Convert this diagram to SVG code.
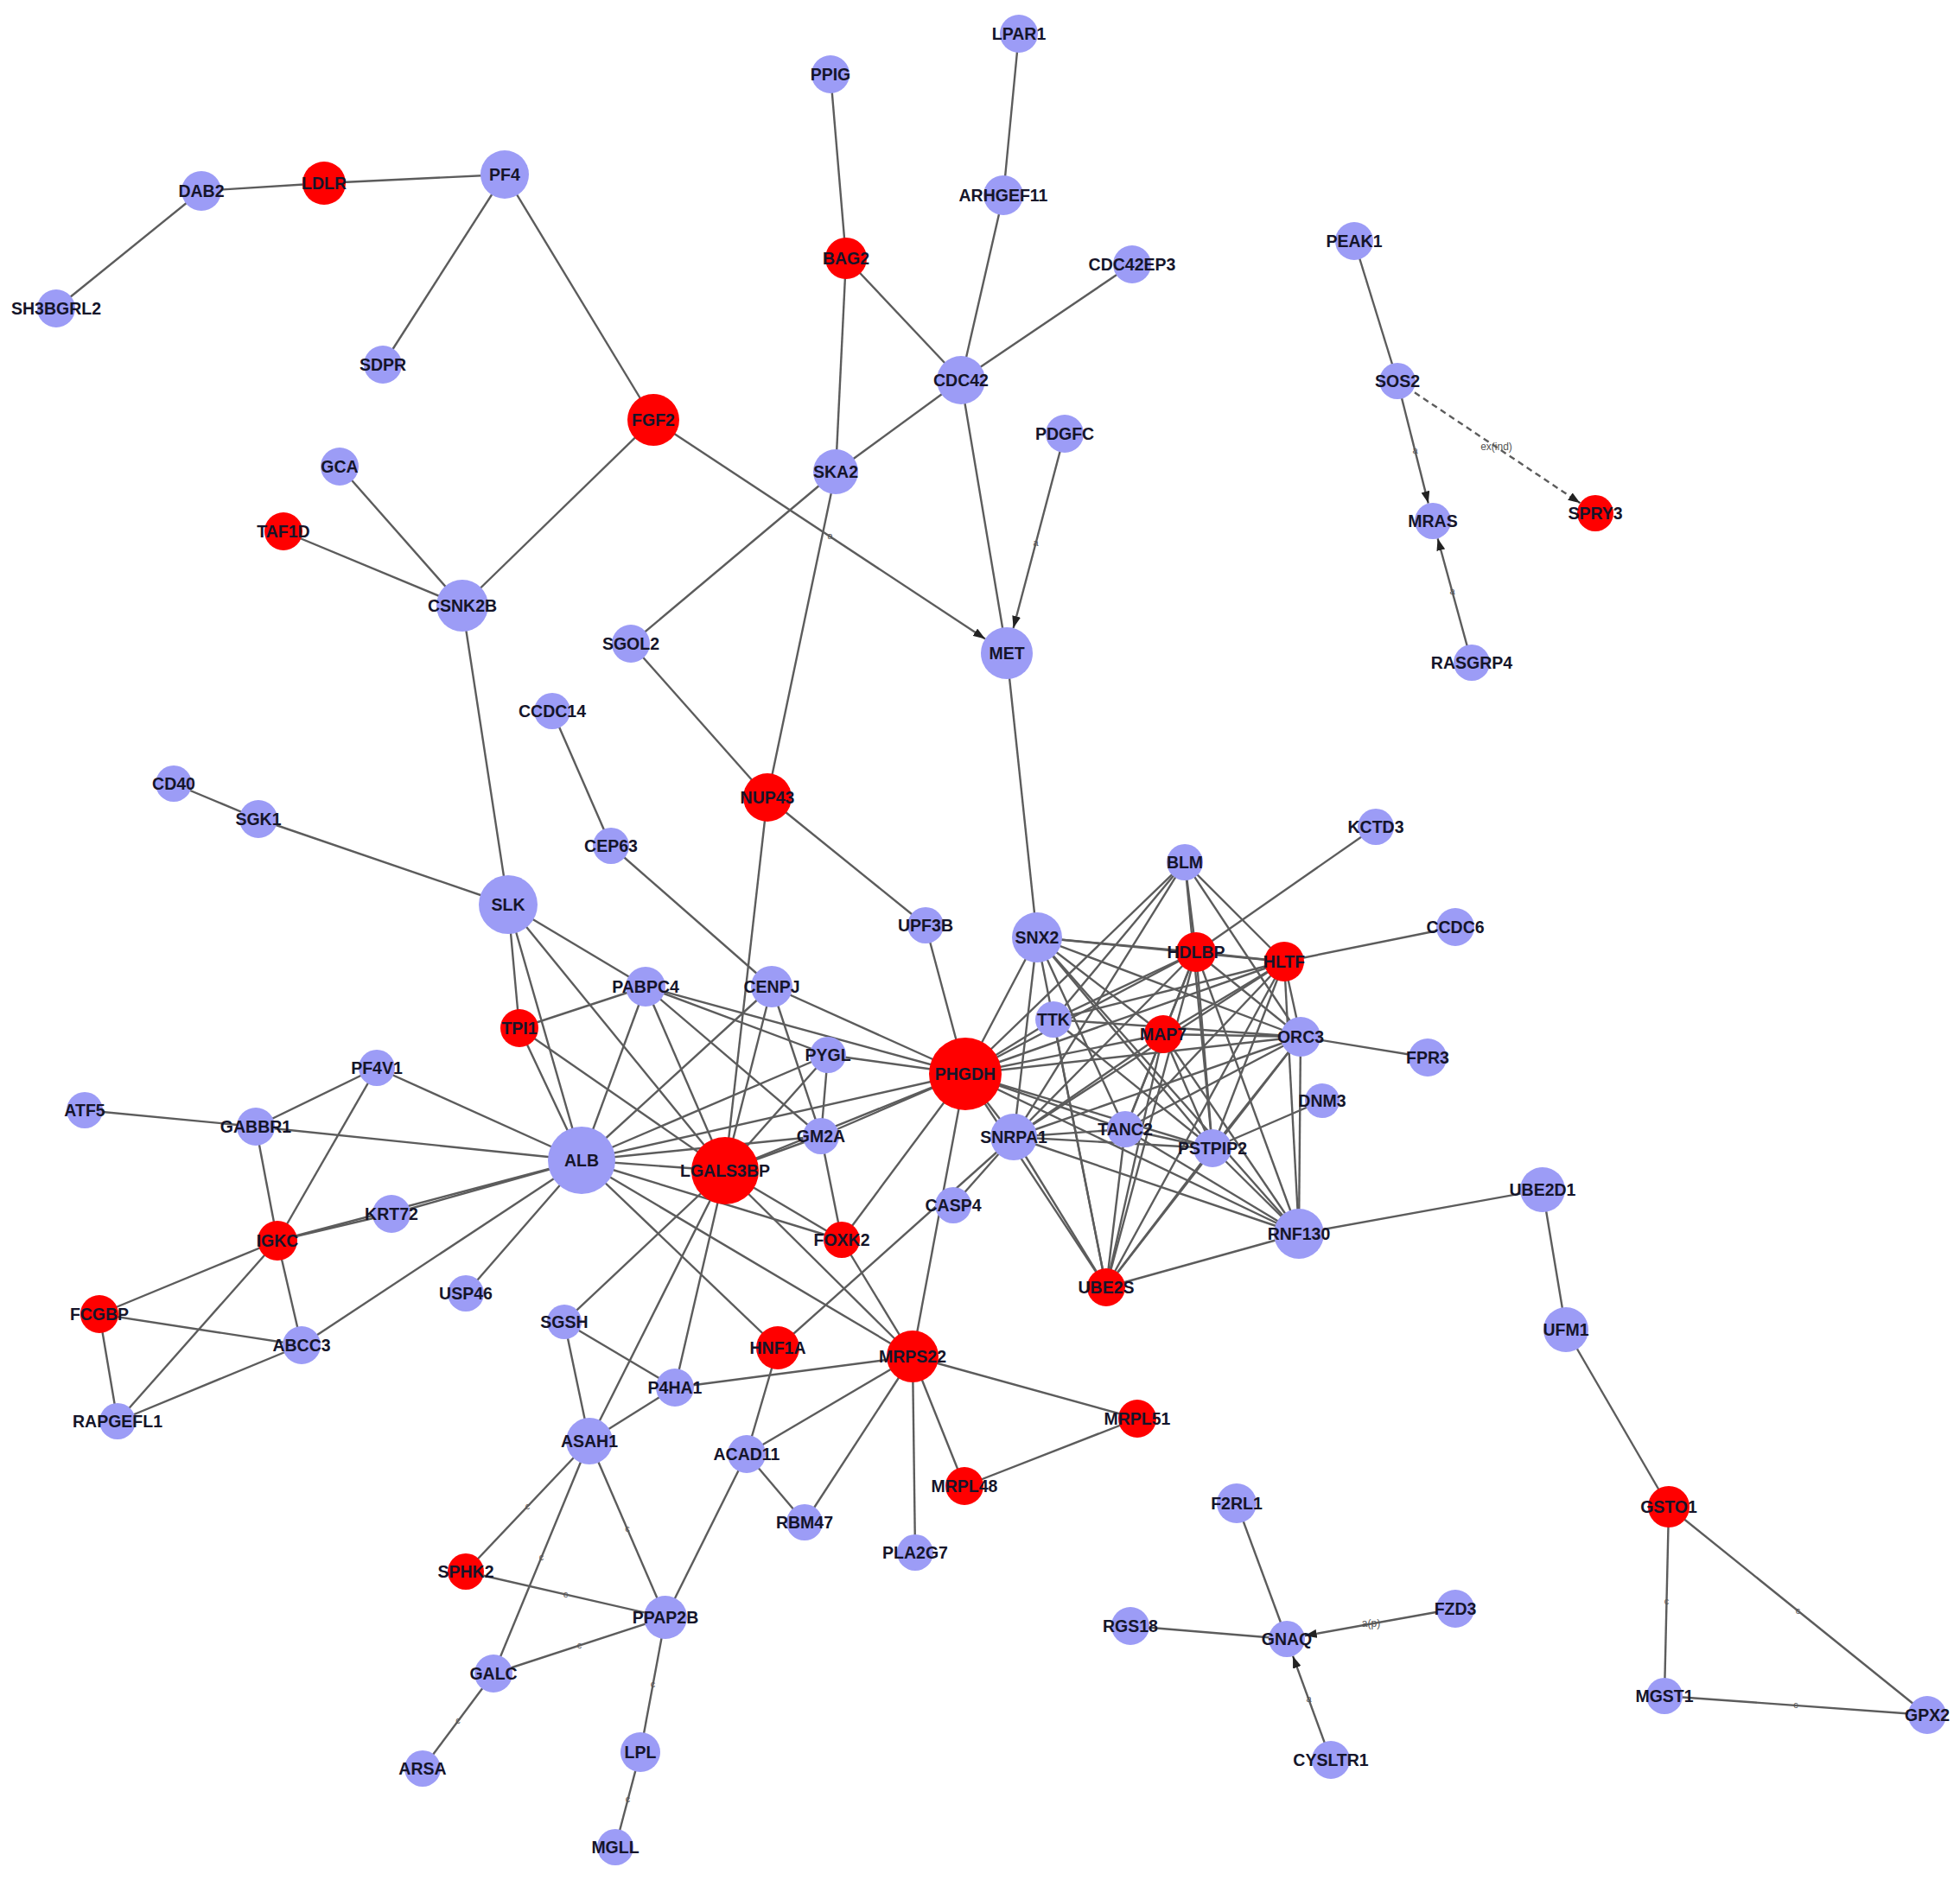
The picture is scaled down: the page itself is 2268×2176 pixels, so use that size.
<svg xmlns="http://www.w3.org/2000/svg" width="2268" height="2176" viewBox="0 0 2268 2176">
<style>
.e line{stroke:#5c5c5c;stroke-width:2.4;fill:none}
.e .d{stroke-dasharray:7,5}
.e .ar{marker-end:url(#arr)}
.el{font-family:"Liberation Sans",Arial,sans-serif;font-size:11px;fill:#555;text-anchor:middle}
.b{fill:#9c9cf6}
.r{fill:#ff0000}
.t{font-family:"Liberation Sans",Arial,sans-serif;font-size:19.5px;font-weight:bold;fill:#15152a;text-anchor:middle}
</style>
<defs>
<marker id="arr" markerUnits="userSpaceOnUse" markerWidth="14" markerHeight="10" refX="14" refY="5" orient="auto">
<path d="M0,0 L14,5 L0,10 z" fill="#222"/>
</marker>
</defs>
<rect width="2268" height="2176" fill="#ffffff"/>
<g id="edges" class="e">
<line x1="1179" y1="39" x2="1161" y2="226"/>
<line x1="1161" y1="226" x2="1112" y2="440"/>
<line x1="961" y1="86" x2="979" y2="299"/>
<line x1="979" y1="299" x2="1112" y2="440"/>
<line x1="979" y1="299" x2="967" y2="546"/>
<line x1="1310" y1="306" x2="1112" y2="440"/>
<line x1="1112" y1="440" x2="967" y2="546"/>
<line x1="1112" y1="440" x2="1165" y2="756"/>
<line x1="233" y1="221" x2="375" y2="212"/>
<line x1="233" y1="221" x2="65" y2="357"/>
<line x1="375" y1="212" x2="584" y2="202"/>
<line x1="584" y1="202" x2="443" y2="422"/>
<line x1="584" y1="202" x2="756" y2="486"/>
<line x1="756" y1="486" x2="535" y2="701"/>
<line x1="967" y1="546" x2="730" y2="745"/>
<line x1="967" y1="546" x2="888" y2="923"/>
<line x1="393" y1="540" x2="535" y2="701"/>
<line x1="328" y1="615" x2="535" y2="701"/>
<line x1="535" y1="701" x2="588" y2="1047"/>
<line x1="730" y1="745" x2="888" y2="923"/>
<line x1="1165" y1="756" x2="1200" y2="1085"/>
<line x1="888" y1="923" x2="1071" y2="1071"/>
<line x1="888" y1="923" x2="839" y2="1355"/>
<line x1="639" y1="823" x2="707" y2="979"/>
<line x1="707" y1="979" x2="893" y2="1142"/>
<line x1="201" y1="907" x2="299" y2="948"/>
<line x1="299" y1="948" x2="588" y2="1047"/>
<line x1="1071" y1="1071" x2="1117" y2="1243"/>
<line x1="588" y1="1047" x2="747" y2="1142"/>
<line x1="588" y1="1047" x2="601" y2="1190"/>
<line x1="588" y1="1047" x2="673" y2="1343"/>
<line x1="588" y1="1047" x2="839" y2="1355"/>
<line x1="747" y1="1142" x2="601" y2="1190"/>
<line x1="747" y1="1142" x2="673" y2="1343"/>
<line x1="747" y1="1142" x2="839" y2="1355"/>
<line x1="747" y1="1142" x2="950" y2="1315"/>
<line x1="747" y1="1142" x2="1117" y2="1243"/>
<line x1="747" y1="1142" x2="958" y2="1221"/>
<line x1="893" y1="1142" x2="1117" y2="1243"/>
<line x1="893" y1="1142" x2="950" y2="1315"/>
<line x1="893" y1="1142" x2="673" y2="1343"/>
<line x1="893" y1="1142" x2="839" y2="1355"/>
<line x1="601" y1="1190" x2="673" y2="1343"/>
<line x1="601" y1="1190" x2="839" y2="1355"/>
<line x1="958" y1="1221" x2="1117" y2="1243"/>
<line x1="958" y1="1221" x2="673" y2="1343"/>
<line x1="958" y1="1221" x2="839" y2="1355"/>
<line x1="958" y1="1221" x2="950" y2="1315"/>
<line x1="436" y1="1236" x2="296" y2="1304"/>
<line x1="436" y1="1236" x2="673" y2="1343"/>
<line x1="436" y1="1236" x2="321" y2="1436"/>
<line x1="98" y1="1285" x2="296" y2="1304"/>
<line x1="296" y1="1304" x2="673" y2="1343"/>
<line x1="296" y1="1304" x2="321" y2="1436"/>
<line x1="673" y1="1343" x2="839" y2="1355"/>
<line x1="673" y1="1343" x2="1117" y2="1243"/>
<line x1="673" y1="1343" x2="950" y2="1315"/>
<line x1="673" y1="1343" x2="974" y2="1435"/>
<line x1="673" y1="1343" x2="900" y2="1560"/>
<line x1="673" y1="1343" x2="1056" y2="1570"/>
<line x1="673" y1="1343" x2="321" y2="1436"/>
<line x1="673" y1="1343" x2="453" y2="1405"/>
<line x1="321" y1="1436" x2="453" y2="1405"/>
<line x1="673" y1="1343" x2="539" y2="1497"/>
<line x1="673" y1="1343" x2="349" y2="1557"/>
<line x1="839" y1="1355" x2="1117" y2="1243"/>
<line x1="839" y1="1355" x2="950" y2="1315"/>
<line x1="839" y1="1355" x2="974" y2="1435"/>
<line x1="839" y1="1355" x2="1056" y2="1570"/>
<line x1="839" y1="1355" x2="653" y2="1530"/>
<line x1="839" y1="1355" x2="682" y2="1668"/>
<line x1="839" y1="1355" x2="781" y2="1606"/>
<line x1="950" y1="1315" x2="1117" y2="1243"/>
<line x1="950" y1="1315" x2="974" y2="1435"/>
<line x1="1117" y1="1243" x2="974" y2="1435"/>
<line x1="1117" y1="1243" x2="1056" y2="1570"/>
<line x1="974" y1="1435" x2="1056" y2="1570"/>
<line x1="900" y1="1560" x2="1173" y2="1316"/>
<line x1="1103" y1="1395" x2="1173" y2="1316"/>
<line x1="321" y1="1436" x2="115" y2="1521"/>
<line x1="321" y1="1436" x2="349" y2="1557"/>
<line x1="321" y1="1436" x2="136" y2="1645"/>
<line x1="115" y1="1521" x2="349" y2="1557"/>
<line x1="115" y1="1521" x2="136" y2="1645"/>
<line x1="136" y1="1645" x2="349" y2="1557"/>
<line x1="653" y1="1530" x2="781" y2="1606"/>
<line x1="653" y1="1530" x2="682" y2="1668"/>
<line x1="781" y1="1606" x2="682" y2="1668"/>
<line x1="781" y1="1606" x2="1056" y2="1570"/>
<line x1="900" y1="1560" x2="864" y2="1683"/>
<line x1="1056" y1="1570" x2="864" y2="1683"/>
<line x1="1056" y1="1570" x2="931" y2="1762"/>
<line x1="1056" y1="1570" x2="1059" y2="1797"/>
<line x1="1056" y1="1570" x2="1116" y2="1720"/>
<line x1="1056" y1="1570" x2="1316" y2="1642"/>
<line x1="1116" y1="1720" x2="1316" y2="1642"/>
<line x1="864" y1="1683" x2="931" y2="1762"/>
<line x1="864" y1="1683" x2="770" y2="1872"/>
<line x1="1785" y1="1377" x2="1503" y2="1428"/>
<line x1="1785" y1="1377" x2="1812" y2="1539"/>
<line x1="1812" y1="1539" x2="1931" y2="1744"/>
<line x1="1431" y1="1740" x2="1489" y2="1897"/>
<line x1="1308" y1="1882" x2="1489" y2="1897"/>
<line x1="1567" y1="279" x2="1617" y2="441"/>
<!-- dense cluster -->
<line x1="1117" y1="1243" x2="1200" y2="1085"/>
<line x1="1117" y1="1243" x2="1371" y2="998"/>
<line x1="1117" y1="1243" x2="1384" y2="1102"/>
<line x1="1117" y1="1243" x2="1486" y2="1113"/>
<line x1="1117" y1="1243" x2="1219" y2="1180"/>
<line x1="1117" y1="1243" x2="1346" y2="1197"/>
<line x1="1117" y1="1243" x2="1505" y2="1200"/>
<line x1="1117" y1="1243" x2="1302" y2="1307"/>
<line x1="1117" y1="1243" x2="1403" y2="1329"/>
<line x1="1117" y1="1243" x2="1503" y2="1428"/>
<line x1="1117" y1="1243" x2="1173" y2="1316"/>
<line x1="1117" y1="1243" x2="1280" y2="1490"/>
<line x1="1200" y1="1085" x2="1384" y2="1102"/>
<line x1="1200" y1="1085" x2="1486" y2="1113"/>
<line x1="1200" y1="1085" x2="1173" y2="1316"/>
<line x1="1200" y1="1085" x2="1280" y2="1490"/>
<line x1="1200" y1="1085" x2="1302" y2="1307"/>
<line x1="1200" y1="1085" x2="1403" y2="1329"/>
<line x1="1200" y1="1085" x2="1503" y2="1428"/>
<line x1="1200" y1="1085" x2="1505" y2="1200"/>
<line x1="1200" y1="1085" x2="1346" y2="1197"/>
<line x1="1371" y1="998" x2="1173" y2="1316"/>
<line x1="1371" y1="998" x2="1384" y2="1102"/>
<line x1="1371" y1="998" x2="1486" y2="1113"/>
<line x1="1371" y1="998" x2="1505" y2="1200"/>
<line x1="1371" y1="998" x2="1403" y2="1329"/>
<line x1="1371" y1="998" x2="1219" y2="1180"/>
<line x1="1384" y1="1102" x2="1486" y2="1113"/>
<line x1="1384" y1="1102" x2="1592" y2="957"/>
<line x1="1384" y1="1102" x2="1346" y2="1197"/>
<line x1="1384" y1="1102" x2="1219" y2="1180"/>
<line x1="1384" y1="1102" x2="1173" y2="1316"/>
<line x1="1384" y1="1102" x2="1505" y2="1200"/>
<line x1="1384" y1="1102" x2="1403" y2="1329"/>
<line x1="1384" y1="1102" x2="1503" y2="1428"/>
<line x1="1384" y1="1102" x2="1280" y2="1490"/>
<line x1="1384" y1="1102" x2="1302" y2="1307"/>
<line x1="1486" y1="1113" x2="1684" y2="1073"/>
<line x1="1486" y1="1113" x2="1505" y2="1200"/>
<line x1="1486" y1="1113" x2="1503" y2="1428"/>
<line x1="1486" y1="1113" x2="1403" y2="1329"/>
<line x1="1486" y1="1113" x2="1346" y2="1197"/>
<line x1="1486" y1="1113" x2="1219" y2="1180"/>
<line x1="1486" y1="1113" x2="1173" y2="1316"/>
<line x1="1486" y1="1113" x2="1280" y2="1490"/>
<line x1="1486" y1="1113" x2="1302" y2="1307"/>
<line x1="1219" y1="1180" x2="1505" y2="1200"/>
<line x1="1219" y1="1180" x2="1280" y2="1490"/>
<line x1="1219" y1="1180" x2="1403" y2="1329"/>
<line x1="1346" y1="1197" x2="1505" y2="1200"/>
<line x1="1346" y1="1197" x2="1173" y2="1316"/>
<line x1="1346" y1="1197" x2="1280" y2="1490"/>
<line x1="1346" y1="1197" x2="1503" y2="1428"/>
<line x1="1346" y1="1197" x2="1403" y2="1329"/>
<line x1="1346" y1="1197" x2="1302" y2="1307"/>
<line x1="1505" y1="1200" x2="1652" y2="1224"/>
<line x1="1505" y1="1200" x2="1503" y2="1428"/>
<line x1="1505" y1="1200" x2="1403" y2="1329"/>
<line x1="1505" y1="1200" x2="1173" y2="1316"/>
<line x1="1505" y1="1200" x2="1280" y2="1490"/>
<line x1="1505" y1="1200" x2="1302" y2="1307"/>
<line x1="1530" y1="1274" x2="1403" y2="1329"/>
<line x1="1302" y1="1307" x2="1403" y2="1329"/>
<line x1="1302" y1="1307" x2="1173" y2="1316"/>
<line x1="1302" y1="1307" x2="1503" y2="1428"/>
<line x1="1302" y1="1307" x2="1280" y2="1490"/>
<line x1="1173" y1="1316" x2="1403" y2="1329"/>
<line x1="1173" y1="1316" x2="1503" y2="1428"/>
<line x1="1173" y1="1316" x2="1280" y2="1490"/>
<line x1="1403" y1="1329" x2="1503" y2="1428"/>
<line x1="1403" y1="1329" x2="1280" y2="1490"/>
<line x1="1503" y1="1428" x2="1280" y2="1490"/>
<!-- c-labelled edges -->
<line x1="682" y1="1668" x2="539" y2="1819"/>
<line x1="682" y1="1668" x2="571" y2="1937"/>
<line x1="682" y1="1668" x2="770" y2="1872"/>
<line x1="539" y1="1819" x2="770" y2="1872"/>
<line x1="571" y1="1937" x2="770" y2="1872"/>
<line x1="571" y1="1937" x2="489" y2="2047"/>
<line x1="770" y1="1872" x2="741" y2="2028"/>
<line x1="741" y1="2028" x2="712" y2="2138"/>
<line x1="1931" y1="1744" x2="1926" y2="1963"/>
<line x1="1931" y1="1744" x2="2230" y2="1985"/>
<line x1="1926" y1="1963" x2="2230" y2="1985"/>
<!-- directed edges -->
<line class="ar" x1="756" y1="486" x2="1140" y2="739.5"/>
<line class="ar" x1="1232" y1="502" x2="1172.6" y2="727"/>
<line class="ar" x1="1617" y1="441" x2="1652.8" y2="582.6"/>
<line class="ar d" x1="1617" y1="441" x2="1828.5" y2="582.3"/>
<line class="ar" x1="1703" y1="767" x2="1663.6" y2="623.2"/>
<line class="ar" x1="1684" y1="1862" x2="1509.7" y2="1893.3"/>
<line class="ar" x1="1540" y1="2037" x2="1496" y2="1916.7"/>
<text class="el" x="610.5" y="1747">c</text>
<text class="el" x="626.5" y="1806">c</text>
<text class="el" x="726" y="1773">c</text>
<text class="el" x="654.5" y="1849">c</text>
<text class="el" x="670.5" y="1908">c</text>
<text class="el" x="530" y="1995">c</text>
<text class="el" x="755.5" y="1953">c</text>
<text class="el" x="726.5" y="2086">c</text>
<text class="el" x="1928.5" y="1857">c</text>
<text class="el" x="2080.5" y="1868">c</text>
<text class="el" x="2078" y="1977">c</text>
<text class="el" x="960.5" y="624">a</text>
<text class="el" x="1198.5" y="632">a</text>
<text class="el" x="1637.5" y="525">a</text>
<text class="el" x="1731.5" y="521" style="font-size:12px">ex(ind)</text>
<text class="el" x="1680.5" y="688">a</text>
<text class="el" x="1586.5" y="1883" style="font-size:12px">a(p)</text>
<text class="el" x="1514.5" y="1970">a</text>
</g>
<g id="nodes">
<g id="n-LPAR1"><circle class="b" cx="1179" cy="39" r="22"/><text class="t" x="1179" y="46">LPAR1</text></g>
<g id="n-PPIG"><circle class="b" cx="961" cy="86" r="22"/><text class="t" x="961" y="93">PPIG</text></g>
<g id="n-DAB2"><circle class="b" cx="233" cy="221" r="23"/><text class="t" x="233" y="228">DAB2</text></g>
<g id="n-LDLR"><circle class="r" cx="375" cy="212" r="25"/><text class="t" x="375" y="219">LDLR</text></g>
<g id="n-PF4"><circle class="b" cx="584" cy="202" r="28"/><text class="t" x="584" y="209">PF4</text></g>
<g id="n-ARHGEF11"><circle class="b" cx="1161" cy="226" r="23"/><text class="t" x="1161" y="233">ARHGEF11</text></g>
<g id="n-BAG2"><circle class="r" cx="979" cy="299" r="24"/><text class="t" x="979" y="306">BAG2</text></g>
<g id="n-CDC42EP3"><circle class="b" cx="1310" cy="306" r="22"/><text class="t" x="1310" y="313">CDC42EP3</text></g>
<g id="n-PEAK1"><circle class="b" cx="1567" cy="279" r="22"/><text class="t" x="1567" y="286">PEAK1</text></g>
<g id="n-SH3BGRL2"><circle class="b" cx="65" cy="357" r="22"/><text class="t" x="65" y="364">SH3BGRL2</text></g>
<g id="n-SDPR"><circle class="b" cx="443" cy="422" r="22"/><text class="t" x="443" y="429">SDPR</text></g>
<g id="n-CDC42"><circle class="b" cx="1112" cy="440" r="28"/><text class="t" x="1112" y="447">CDC42</text></g>
<g id="n-SOS2"><circle class="b" cx="1617" cy="441" r="21"/><text class="t" x="1617" y="448">SOS2</text></g>
<g id="n-FGF2"><circle class="r" cx="756" cy="486" r="30"/><text class="t" x="756" y="493">FGF2</text></g>
<g id="n-PDGFC"><circle class="b" cx="1232" cy="502" r="22"/><text class="t" x="1232" y="509">PDGFC</text></g>
<g id="n-GCA"><circle class="b" cx="393" cy="540" r="22"/><text class="t" x="393" y="547">GCA</text></g>
<g id="n-SKA2"><circle class="b" cx="967" cy="546" r="26"/><text class="t" x="967" y="553">SKA2</text></g>
<g id="n-TAF1D"><circle class="r" cx="328" cy="615" r="22"/><text class="t" x="328" y="622">TAF1D</text></g>
<g id="n-MRAS"><circle class="b" cx="1658" cy="603" r="21"/><text class="t" x="1658" y="610">MRAS</text></g>
<g id="n-SPRY3"><circle class="r" cx="1846" cy="594" r="21"/><text class="t" x="1846" y="601">SPRY3</text></g>
<g id="n-CSNK2B"><circle class="b" cx="535" cy="701" r="30"/><text class="t" x="535" y="708">CSNK2B</text></g>
<g id="n-SGOL2"><circle class="b" cx="730" cy="745" r="22"/><text class="t" x="730" y="752">SGOL2</text></g>
<g id="n-MET"><circle class="b" cx="1165" cy="756" r="30"/><text class="t" x="1165" y="763">MET</text></g>
<g id="n-RASGRP4"><circle class="b" cx="1703" cy="767" r="21"/><text class="t" x="1703" y="774">RASGRP4</text></g>
<g id="n-CCDC14"><circle class="b" cx="639" cy="823" r="21"/><text class="t" x="639" y="830">CCDC14</text></g>
<g id="n-NUP43"><circle class="r" cx="888" cy="923" r="28"/><text class="t" x="888" y="930">NUP43</text></g>
<g id="n-CD40"><circle class="b" cx="201" cy="907" r="21"/><text class="t" x="201" y="914">CD40</text></g>
<g id="n-SGK1"><circle class="b" cx="299" cy="948" r="22"/><text class="t" x="299" y="955">SGK1</text></g>
<g id="n-CEP63"><circle class="b" cx="707" cy="979" r="21"/><text class="t" x="707" y="986">CEP63</text></g>
<g id="n-KCTD3"><circle class="b" cx="1592" cy="957" r="21"/><text class="t" x="1592" y="964">KCTD3</text></g>
<g id="n-BLM"><circle class="b" cx="1371" cy="998" r="21"/><text class="t" x="1371" y="1005">BLM</text></g>
<g id="n-SLK"><circle class="b" cx="588" cy="1047" r="34"/><text class="t" x="588" y="1054">SLK</text></g>
<g id="n-UPF3B"><circle class="b" cx="1071" cy="1071" r="21"/><text class="t" x="1071" y="1078">UPF3B</text></g>
<g id="n-SNX2"><circle class="b" cx="1200" cy="1085" r="29"/><text class="t" x="1200" y="1092">SNX2</text></g>
<g id="n-HDLBP"><circle class="r" cx="1384" cy="1102" r="23"/><text class="t" x="1384" y="1109">HDLBP</text></g>
<g id="n-HLTF"><circle class="r" cx="1486" cy="1113" r="23"/><text class="t" x="1486" y="1120">HLTF</text></g>
<g id="n-CCDC6"><circle class="b" cx="1684" cy="1073" r="22"/><text class="t" x="1684" y="1080">CCDC6</text></g>
<g id="n-PABPC4"><circle class="b" cx="747" cy="1142" r="23"/><text class="t" x="747" y="1149">PABPC4</text></g>
<g id="n-CENPJ"><circle class="b" cx="893" cy="1142" r="24"/><text class="t" x="893" y="1149">CENPJ</text></g>
<g id="n-TPI1"><circle class="r" cx="601" cy="1190" r="22"/><text class="t" x="601" y="1197">TPI1</text></g>
<g id="n-TTK"><circle class="b" cx="1219" cy="1180" r="21"/><text class="t" x="1219" y="1187">TTK</text></g>
<g id="n-MAP7"><circle class="r" cx="1346" cy="1197" r="22"/><text class="t" x="1346" y="1204">MAP7</text></g>
<g id="n-ORC3"><circle class="b" cx="1505" cy="1200" r="23"/><text class="t" x="1505" y="1207">ORC3</text></g>
<g id="n-FPR3"><circle class="b" cx="1652" cy="1224" r="22"/><text class="t" x="1652" y="1231">FPR3</text></g>
<g id="n-PYGL"><circle class="b" cx="958" cy="1221" r="21"/><text class="t" x="958" y="1228">PYGL</text></g>
<g id="n-PF4V1"><circle class="b" cx="436" cy="1236" r="21"/><text class="t" x="436" y="1243">PF4V1</text></g>
<g id="n-PHGDH"><circle class="r" cx="1117" cy="1243" r="42"/><text class="t" x="1117" y="1250">PHGDH</text></g>
<g id="n-ATF5"><circle class="b" cx="98" cy="1285" r="21"/><text class="t" x="98" y="1292">ATF5</text></g>
<g id="n-DNM3"><circle class="b" cx="1530" cy="1274" r="20"/><text class="t" x="1530" y="1281">DNM3</text></g>
<g id="n-GABBR1"><circle class="b" cx="296" cy="1304" r="22"/><text class="t" x="296" y="1311">GABBR1</text></g>
<g id="n-TANC2"><circle class="b" cx="1302" cy="1307" r="21"/><text class="t" x="1302" y="1314">TANC2</text></g>
<g id="n-SNRPA1"><circle class="b" cx="1173" cy="1316" r="27"/><text class="t" x="1173" y="1323">SNRPA1</text></g>
<g id="n-PSTPIP2"><circle class="b" cx="1403" cy="1329" r="22"/><text class="t" x="1403" y="1336">PSTPIP2</text></g>
<g id="n-GM2A"><circle class="b" cx="950" cy="1315" r="21"/><text class="t" x="950" y="1322">GM2A</text></g>
<g id="n-ALB"><circle class="b" cx="673" cy="1343" r="39"/><text class="t" x="673" y="1350">ALB</text></g>
<g id="n-LGALS3BP"><circle class="r" cx="839" cy="1355" r="39"/><text class="t" x="839" y="1362">LGALS3BP</text></g>
<g id="n-UBE2D1"><circle class="b" cx="1785" cy="1377" r="26"/><text class="t" x="1785" y="1384">UBE2D1</text></g>
<g id="n-CASP4"><circle class="b" cx="1103" cy="1395" r="21"/><text class="t" x="1103" y="1402">CASP4</text></g>
<g id="n-KRT72"><circle class="b" cx="453" cy="1405" r="22"/><text class="t" x="453" y="1412">KRT72</text></g>
<g id="n-RNF130"><circle class="b" cx="1503" cy="1428" r="29"/><text class="t" x="1503" y="1435">RNF130</text></g>
<g id="n-IGKC"><circle class="r" cx="321" cy="1436" r="23"/><text class="t" x="321" y="1443">IGKC</text></g>
<g id="n-FOXK2"><circle class="r" cx="974" cy="1435" r="21"/><text class="t" x="974" y="1442">FOXK2</text></g>
<g id="n-UBE2S"><circle class="r" cx="1280" cy="1490" r="22"/><text class="t" x="1280" y="1497">UBE2S</text></g>
<g id="n-USP46"><circle class="b" cx="539" cy="1497" r="21"/><text class="t" x="539" y="1504">USP46</text></g>
<g id="n-FCGBP"><circle class="r" cx="115" cy="1521" r="22"/><text class="t" x="115" y="1528">FCGBP</text></g>
<g id="n-SGSH"><circle class="b" cx="653" cy="1530" r="20"/><text class="t" x="653" y="1537">SGSH</text></g>
<g id="n-ABCC3"><circle class="b" cx="349" cy="1557" r="22"/><text class="t" x="349" y="1564">ABCC3</text></g>
<g id="n-HNF1A"><circle class="r" cx="900" cy="1560" r="25"/><text class="t" x="900" y="1567">HNF1A</text></g>
<g id="n-MRPS22"><circle class="r" cx="1056" cy="1570" r="30"/><text class="t" x="1056" y="1577">MRPS22</text></g>
<g id="n-UFM1"><circle class="b" cx="1812" cy="1539" r="26"/><text class="t" x="1812" y="1546">UFM1</text></g>
<g id="n-P4HA1"><circle class="b" cx="781" cy="1606" r="22"/><text class="t" x="781" y="1613">P4HA1</text></g>
<g id="n-MRPL51"><circle class="r" cx="1316" cy="1642" r="22"/><text class="t" x="1316" y="1649">MRPL51</text></g>
<g id="n-RAPGEFL1"><circle class="b" cx="136" cy="1645" r="21"/><text class="t" x="136" y="1652">RAPGEFL1</text></g>
<g id="n-ASAH1"><circle class="b" cx="682" cy="1668" r="27"/><text class="t" x="682" y="1675">ASAH1</text></g>
<g id="n-ACAD11"><circle class="b" cx="864" cy="1683" r="22"/><text class="t" x="864" y="1690">ACAD11</text></g>
<g id="n-MRPL48"><circle class="r" cx="1116" cy="1720" r="22"/><text class="t" x="1116" y="1727">MRPL48</text></g>
<g id="n-F2RL1"><circle class="b" cx="1431" cy="1740" r="23"/><text class="t" x="1431" y="1747">F2RL1</text></g>
<g id="n-GSTO1"><circle class="r" cx="1931" cy="1744" r="24"/><text class="t" x="1931" y="1751">GSTO1</text></g>
<g id="n-RBM47"><circle class="b" cx="931" cy="1762" r="21"/><text class="t" x="931" y="1769">RBM47</text></g>
<g id="n-PLA2G7"><circle class="b" cx="1059" cy="1797" r="21"/><text class="t" x="1059" y="1804">PLA2G7</text></g>
<g id="n-SPHK2"><circle class="r" cx="539" cy="1819" r="21"/><text class="t" x="539" y="1826">SPHK2</text></g>
<g id="n-FZD3"><circle class="b" cx="1684" cy="1862" r="22"/><text class="t" x="1684" y="1869">FZD3</text></g>
<g id="n-RGS18"><circle class="b" cx="1308" cy="1882" r="22"/><text class="t" x="1308" y="1889">RGS18</text></g>
<g id="n-PPAP2B"><circle class="b" cx="770" cy="1872" r="25"/><text class="t" x="770" y="1879">PPAP2B</text></g>
<g id="n-GNAQ"><circle class="b" cx="1489" cy="1897" r="21"/><text class="t" x="1489" y="1904">GNAQ</text></g>
<g id="n-GALC"><circle class="b" cx="571" cy="1937" r="22"/><text class="t" x="571" y="1944">GALC</text></g>
<g id="n-MGST1"><circle class="b" cx="1926" cy="1963" r="21"/><text class="t" x="1926" y="1970">MGST1</text></g>
<g id="n-GPX2"><circle class="b" cx="2230" cy="1985" r="22"/><text class="t" x="2230" y="1992">GPX2</text></g>
<g id="n-LPL"><circle class="b" cx="741" cy="2028" r="23"/><text class="t" x="741" y="2035">LPL</text></g>
<g id="n-CYSLTR1"><circle class="b" cx="1540" cy="2037" r="22"/><text class="t" x="1540" y="2044">CYSLTR1</text></g>
<g id="n-ARSA"><circle class="b" cx="489" cy="2047" r="21"/><text class="t" x="489" y="2054">ARSA</text></g>
<g id="n-MGLL"><circle class="b" cx="712" cy="2138" r="21"/><text class="t" x="712" y="2145">MGLL</text></g>
</g>
</svg>
